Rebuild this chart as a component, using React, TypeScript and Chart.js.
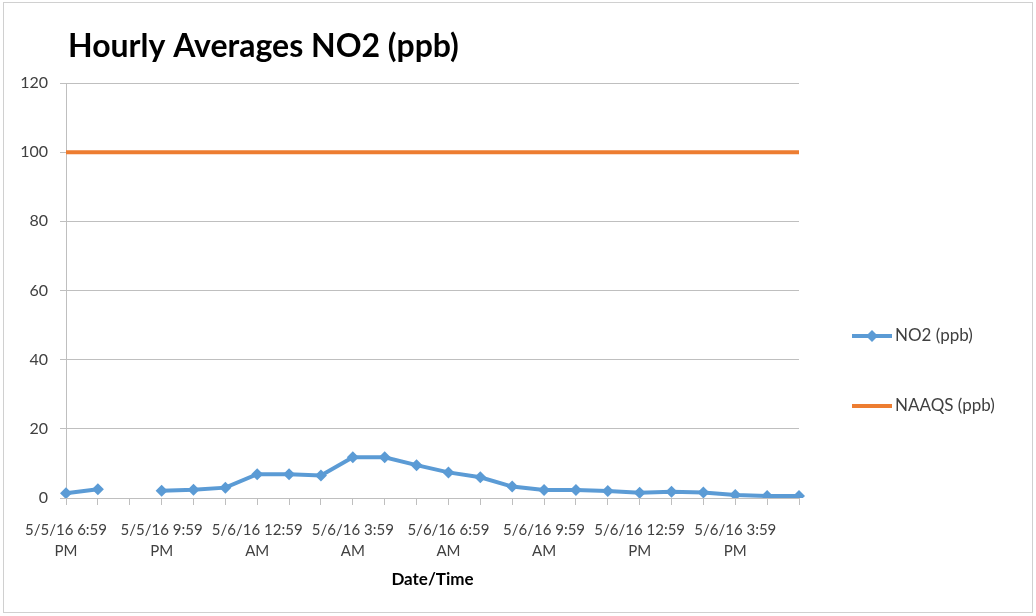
import React, { useEffect, useRef } from 'react';
import { Chart, registerables } from 'chart.js';

Chart.register(...registerables);

const chartTitle = 'Hourly Averages NO2 (ppb)';
const xAxisTitle = 'Date/Time';

const timeLabels = [
  '5/5/16 6:59 PM', '5/5/16 7:59 PM', '5/5/16 8:59 PM', '5/5/16 9:59 PM',
  '5/5/16 10:59 PM', '5/5/16 11:59 PM', '5/6/16 12:59 AM', '5/6/16 1:59 AM',
  '5/6/16 2:59 AM', '5/6/16 3:59 AM', '5/6/16 4:59 AM', '5/6/16 5:59 AM',
  '5/6/16 6:59 AM', '5/6/16 7:59 AM', '5/6/16 8:59 AM', '5/6/16 9:59 AM',
  '5/6/16 10:59 AM', '5/6/16 11:59 AM', '5/6/16 12:59 PM', '5/6/16 1:59 PM',
  '5/6/16 2:59 PM', '5/6/16 3:59 PM', '5/6/16 4:59 PM', '5/6/16 5:59 PM',
];

const no2Values: (number | null)[] = [
  1.4, 2.5, null, 2.1, 2.4, 3.0, 6.9, 6.9, 6.5, 11.8, 11.8, 9.5,
  7.4, 6.0, 3.3, 2.3, 2.3, 2.0, 1.5, 1.8, 1.6, 0.9, 0.6, 0.6,
];

const naaqsValues = [
  100, 100, 100, 100, 100, 100, 100, 100, 100, 100, 100, 100,
  100, 100, 100, 100, 100, 100, 100, 100, 100, 100, 100, 100,
];

const yTicks = { min: 0, max: 120, step: 20 };

const BLUE = '#5B9BD5';
const ORANGE = '#ED7D31';
const GRID = '#BFBFBF';
const TEXT = '#404040';
const FONT = 'Lato';

export default function App() {
  const ref = useRef<HTMLCanvasElement | null>(null);

  useEffect(() => {
    document.body.style.margin = '0';
    const canvas = ref.current;
    if (!canvas) return;

    const decor = {
      id: 'decor',
      beforeDraw(chart: any) {
        const ctx = chart.ctx;
        ctx.save();
        ctx.fillStyle = '#ffffff';
        ctx.fillRect(0, 0, chart.width, chart.height);
        ctx.restore();
      },
      afterDraw(chart: any) {
        const ctx = chart.ctx;
        ctx.save();
        // outer border
        ctx.strokeStyle = '#D0D0D0';
        ctx.lineWidth = 1;
        ctx.strokeRect(3.5, 2.5, 1029, 610);
        // title
        ctx.fillStyle = '#000000';
        ctx.font = `bold 32px ${FONT}`;
        ctx.textBaseline = 'alphabetic';
        ctx.textAlign = 'left';
        ctx.fillText(chartTitle, 68, 57);
        // legend
        const items = [
          { label: 'NO2 (ppb)', color: BLUE, marker: true, y: 336 },
          { label: 'NAAQS (ppb)', color: ORANGE, marker: false, y: 406 },
        ];
        ctx.font = `17px ${FONT}`;
        ctx.textBaseline = 'middle';
        for (const it of items) {
          ctx.strokeStyle = it.color;
          ctx.lineWidth = 4;
          ctx.beginPath();
          ctx.moveTo(852, it.y);
          ctx.lineTo(892, it.y);
          ctx.stroke();
          if (it.marker) {
            ctx.fillStyle = it.color;
            ctx.beginPath();
            ctx.moveTo(872, it.y - 6);
            ctx.lineTo(878, it.y);
            ctx.lineTo(872, it.y + 6);
            ctx.lineTo(866, it.y);
            ctx.closePath();
            ctx.fill();
          }
          ctx.fillStyle = TEXT;
          ctx.fillText(it.label, 895, it.y);
        }
        ctx.restore();
      },
    };

    const chart = new Chart(canvas, {
      type: 'line',
      data: {
        labels: timeLabels,
        datasets: [
          {
            label: 'NO2 (ppb)',
            data: no2Values,
            borderColor: BLUE,
            backgroundColor: BLUE,
            borderWidth: 4,
            pointStyle: 'rectRot',
            pointRadius: 6,
            pointBorderWidth: 0,
            pointBackgroundColor: BLUE,
            spanGaps: false,
            tension: 0,
            order: 0,
          },
          {
            label: 'NAAQS (ppb)',
            data: naaqsValues,
            borderColor: ORANGE,
            backgroundColor: ORANGE,
            borderWidth: 4,
            pointRadius: 0,
            tension: 0,
            order: 1,
          },
        ],
      },
      plugins: [decor],
      options: {
        responsive: false,
        animation: false,
        devicePixelRatio: 1,
        layout: { padding: { left: 0, right: 237, top: 83, bottom: 0 } },
        plugins: {
          legend: { display: false },
          title: { display: false },
          tooltip: { enabled: false },
        },
        scales: {
          x: {
            type: 'category',
            offset: false,
            afterFit: (scale: any) => { scale.height = 118; },
            grid: {
              display: true,
              drawOnChartArea: false,
              drawTicks: true,
              tickLength: 7,
              color: GRID,
            },
            border: { display: true, color: GRID, width: 1 },
            ticks: {
              autoSkip: false,
              maxRotation: 0,
              minRotation: 0,
              padding: 14,
              color: TEXT,
              font: { family: FONT, size: 15, lineHeight: 1.45 },
              callback: (_v: any, i: number) => {
                if (i % 3 !== 0) return '';
                const s = timeLabels[i];
                const k = s.lastIndexOf(' ');
                return [s.slice(0, k), s.slice(k + 1)];
              },
            },
            title: {
              display: true,
              text: xAxisTitle,
              color: '#000000',
              font: { family: FONT, size: 17, weight: 'bold', lineHeight: 1.2 },
              padding: { top: 0, bottom: 26 },
            },
          },
          y: {
            min: yTicks.min,
            max: yTicks.max,
            afterFit: (scale: any) => { scale.width = 66; },
            grid: {
              color: GRID,
              drawTicks: true,
              tickLength: 6,
            },
            border: { display: true, color: GRID, width: 1 },
            ticks: {
              stepSize: yTicks.step,
              padding: 12,
              color: TEXT,
              font: { family: FONT, size: 16 },
            },
          },
        },
      },
    } as any);

    return () => chart.destroy();
  }, []);

  return (
    <div style={{ width: 1036, height: 616, position: 'relative' }}>
      <canvas ref={ref} width={1036} height={616} style={{ display: 'block' }} />
    </div>
  );
}
